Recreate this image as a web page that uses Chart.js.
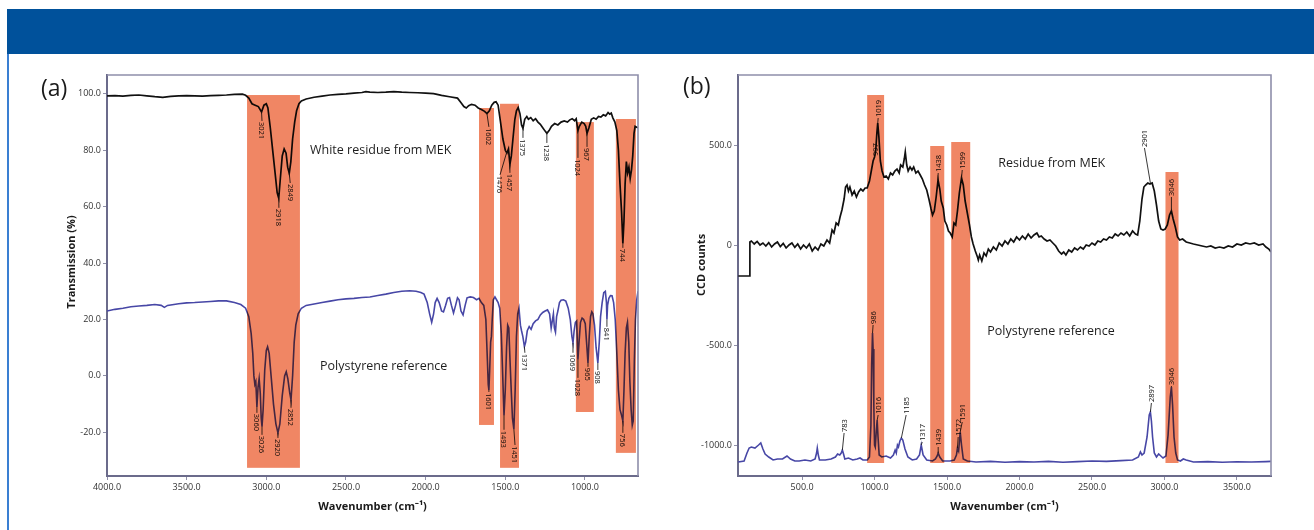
<!DOCTYPE html>
<html><head><meta charset="utf-8">
<script src="https://cdn.jsdelivr.net/npm/chart.js@4.4.1/dist/chart.umd.min.js"></script>
<style>
html,body{margin:0;padding:0;background:#fff;}
body{width:1314px;height:530px;position:relative;overflow:hidden;font-family:"Open Sans",sans-serif;}
#hdr{position:absolute;left:7px;top:9px;width:1307px;height:45px;background:#00519b;}
#side{position:absolute;left:7px;top:54px;width:2px;height:476px;background:#3a7fd2;}
.panel{position:absolute;top:54px;height:476px;}
#pa{left:0;width:660px;}
#pb{left:660px;width:654px;}
.tag{position:absolute;font-size:23px;line-height:24px;color:#1a1a1a;}
</style></head><body>
<div id="hdr"></div><div id="side"></div>
<div class="panel" id="pa"><canvas id="ca" width="660" height="476"></canvas></div>
<div class="panel" id="pb"><canvas id="cb" width="654" height="476"></canvas></div>
<div class="tag" style="left:41px;top:75px">(a)</div>
<div class="tag" style="left:683px;top:73px">(b)</div>
<script>
// ---------- Panel (a): FTIR transmission ----------
const aMekWn = [4000,3950,3900,3850,3800,3750,3700,3650,3600,3550,3500,3450,3400,3350,3300,3250,3200,3150,3130,3110,3090,3070,3050,3030,3015,3000,2990,2975,2960,2945,2932,2922,2912,2900,2888,2876,2866,2856,2846,2835,2822,2810,2795,2780,2750,2700,2650,2600,2550,2500,2450,2400,2375,2350,2300,2250,2200,2150,2100,2050,2000,1950,1900,1850,1800,1780,1760,1745,1730,1712,1690,1670,1650,1630,1615,1600,1585,1570,1558,1545,1530,1515,1500,1490,1480,1471,1462,1452,1440,1430,1419,1408,1398,1389,1378,1365,1355,1340,1325,1310,1295,1280,1265,1250,1239,1225,1210,1190,1170,1150,1130,1110,1095,1080,1065,1055,1044,1035,1020,1005,995,987,975,960,945,930,915,900,885,870,855,845,835,825,812,800,790,780,770,762,755,748,740,732,724,716,708,700,692,685,675,667];
const aMekT  = [99.3,99.4,99.2,99.5,99.6,99.3,99.0,98.8,99.1,99.3,99.4,99.3,99.2,99.4,99.5,99.6,99.8,99.9,99.5,98.5,96.5,96.0,95.5,93.6,96.0,96.5,95.0,88.0,80.0,72.0,65.0,63.0,70.0,78.0,80.5,79.0,74.0,71.8,76.0,84.0,90.0,94.0,96.5,97.5,98.2,98.8,99.2,99.6,99.8,100.0,100.3,100.5,100.8,100.6,100.5,100.6,100.8,100.6,100.5,100.4,100.3,100.1,99.5,99.0,98.5,97.0,95.5,95.0,95.8,96.3,96.0,95.0,94.5,93.8,93.0,94.0,96.0,97.0,97.2,96.0,90.0,84.0,80.0,79.0,80.5,75.0,78.0,84.0,91.0,94.0,95.2,93.0,89.0,87.8,91.0,92.0,91.0,91.6,90.5,91.2,90.0,89.2,88.0,86.8,86.0,87.0,88.5,89.5,89.0,90.0,90.4,90.0,90.8,91.2,90.5,91.2,87.0,88.5,90.0,89.5,88.5,86.0,88.0,91.0,91.5,91.0,92.0,91.8,92.6,92.2,93.4,92.8,93.2,91.5,90.0,87.0,80.0,68.0,58.0,47.0,55.0,68.0,76.0,72.0,74.0,70.0,73.0,78.0,86.0,88.5,88.2,88.0];
const aPsWn = [4000,3950,3900,3850,3800,3750,3700,3660,3640,3620,3550,3500,3450,3400,3350,3300,3250,3200,3160,3130,3110,3095,3085,3078,3072,3066,3059,3052,3045,3038,3032,3027,3020,3010,3000,2992,2982,2970,2955,2940,2927,2915,2900,2885,2875,2865,2853,2845,2835,2825,2815,2800,2780,2750,2700,2650,2600,2550,2500,2450,2400,2350,2300,2250,2200,2150,2100,2060,2030,2010,1990,1975,1962,1950,1940,1928,1915,1900,1888,1875,1862,1850,1838,1825,1812,1800,1790,1778,1765,1752,1740,1720,1700,1680,1665,1650,1635,1622,1612,1607,1603,1598,1592,1587,1582,1575,1565,1555,1545,1535,1525,1515,1508,1500,1492,1485,1478,1470,1462,1455,1446,1438,1430,1422,1414,1405,1398,1390,1380,1372,1362,1350,1338,1325,1310,1295,1280,1265,1250,1235,1222,1212,1205,1198,1192,1185,1178,1170,1160,1150,1135,1120,1105,1092,1082,1075,1068,1060,1052,1044,1037,1028,1018,1008,998,990,981,973,965,957,950,940,930,919,910,902,892,882,872,865,862,858,850,840,830,820,810,800,790,780,770,762,755,748,740,733,725,718,710,703,697,690,683,675,667];
const aPsT  = [23.0,23.6,24.0,24.5,24.8,25.0,25.3,25.0,24.3,25.0,25.6,25.9,26.0,26.2,26.4,26.6,26.6,26.0,25.3,24.0,21.0,15.0,8.0,0.0,-3.0,-2.0,-11.0,-4.0,-1.0,-6.0,-15.0,-18.0,-12.0,2.0,9.0,10.3,8.0,0.0,-10.0,-17.0,-20.2,-17.0,-7.0,0.0,1.5,-1.0,-6.0,-8.5,0.0,12.0,18.0,22.0,24.0,25.0,25.5,26.0,26.5,27.0,27.3,27.5,27.8,28.0,28.5,29.0,29.6,30.0,30.2,30.0,29.6,29.0,26.0,22.0,19.0,22.0,26.0,27.5,26.0,23.0,22.7,25.0,27.5,27.8,25.0,22.3,25.0,27.7,27.0,23.0,21.6,25.0,27.7,28.0,27.8,27.0,27.5,26.0,25.0,20.0,5.0,-3.0,-5.0,2.0,12.0,14.0,20.0,27.0,28.0,27.0,26.0,24.0,15.0,-2.0,-14.0,-5.0,10.0,18.0,17.0,5.0,-6.0,-15.0,-19.0,-5.0,14.0,22.0,24.0,18.0,16.0,14.0,10.4,12.0,16.0,17.5,16.5,18.5,19.5,20.0,21.6,22.5,23.0,23.4,22.0,17.0,19.5,22.0,17.0,15.5,21.0,23.0,26.0,26.8,27.0,26.5,24.0,20.0,14.0,11.7,16.0,19.0,19.5,5.7,12.0,19.0,20.5,20.0,18.5,12.0,4.6,14.0,21.0,22.7,22.0,18.0,10.0,4.6,12.0,21.0,26.0,29.5,30.0,26.0,20.0,25.0,27.5,28.5,28.4,26.0,20.0,8.0,-5.0,-12.0,-14.0,-16.0,-5.0,8.0,17.0,19.0,12.0,-2.0,-12.0,-17.5,-16.0,5.0,20.0,27.0,30.0];
const aXTicks = [4000,3500,3000,2500,2000,1500,1000];
const aXTickLabels = ["4000.0","3500.0","3000.0","2500.0","2000.0","1500.0","1000.0"];
const aYTicks = [-20,0,20,40,60,80,100];
const aYTickLabels = ["-20.0","0.0","20.0","40.0","60.0","80.0","100.0"];
// highlighted bands: [from, to, top, bottom]
const aBands = [[3121,2789,99.6,-32.6],[1665,1571,95,-17.4],[1533,1414,96.5,-32.6],[1057,944,90,-12.8],[806,680,91.1,-27.3]];
const aPeaks = [
 {t:'3021',tip:[3030,93.6],at:[3027,90.4]},{t:'2918',tip:[2922,63.0],at:[2921,59.6]},{t:'2849',tip:[2856,71.8],at:[2850,68.4]},
 {t:'1602',tip:[1615,93.0],at:[1603,88.3]},{t:'1476',tip:[1490,79.5],at:[1533,71.3]},{t:'1457',tip:[1471,75.0],at:[1471,72.0]},
 {t:'1375',tip:[1389,87.8],at:[1389,84.4]},{t:'1238',tip:[1239,86.0],at:[1239,82.6]},{t:'1024',tip:[1044,87.0],at:[1044,77.3]},
 {t:'967',tip:[987,86.0],at:[987,81.2]},{t:'744',tip:[762,47.0],at:[762,45.4]},
 {t:'3060',tip:[3059,-11],at:[3059,-13.1]},{t:'3026',tip:[3027,-18],at:[3027,-20.9]},{t:'2920',tip:[2927,-20.2],at:[2927,-22]},
 {t:'2852',tip:[2845,-8.5],at:[2845,-11.3]},{t:'1601',tip:[1603,-5],at:[1603,-5.7]},{t:'1493',tip:[1508,-14],at:[1508,-19.1]},
 {t:'1451',tip:[1446,-19],at:[1439,-24.5]},{t:'1371',tip:[1380,10.4],at:[1377,8.2]},{t:'1069',tip:[1075,11.7],at:[1075,8.2]},
 {t:'1028',tip:[1044,5.7],at:[1044,-0.7]},{t:'965',tip:[981,4.6],at:[981,3.2]},{t:'908',tip:[919,4.6],at:[919,2.1]},
 {t:'841',tip:[862,20],at:[862,17.4]},{t:'756',tip:[762,-16],at:[762,-20.2]}];
const aNames = [{t:'White residue from MEK',x:2726,y:79.8},{t:'Polystyrene reference',x:2663,y:3.2}];

// ---------- Panel (b): Raman ----------
const bMekWn = [60,100,138,140,150,170,190,210,230,250,270,290,310,330,350,370,390,410,430,450,470,490,510,530,550,570,590,610,630,650,672,690,707,720,735,750,762,775,790,800,810,820,830,845,860,875,890,905,920,935,949,965,980,990,1000,1008,1016,1022,1030,1040,1052,1065,1080,1095,1110,1125,1140,1155,1170,1180,1195,1205,1212,1222,1232,1245,1258,1270,1285,1300,1315,1330,1345,1360,1375,1390,1400,1412,1425,1438,1450,1460,1474,1485,1498,1510,1522,1536,1548,1560,1572,1585,1600,1612,1625,1640,1655,1668,1680,1695,1710,1716,1725,1740,1755,1770,1785,1800,1820,1840,1860,1880,1900,1920,1940,1960,1980,2000,2020,2040,2060,2080,2100,2120,2135,2150,2170,2190,2210,2230,2250,2270,2290,2305,2320,2340,2360,2380,2400,2420,2440,2460,2480,2500,2520,2540,2560,2580,2600,2620,2640,2660,2680,2700,2720,2740,2760,2780,2800,2815,2830,2845,2858,2870,2885,2900,2915,2930,2945,2960,2975,2990,3005,3020,3035,3048,3060,3075,3090,3105,3125,3150,3175,3200,3230,3260,3290,3320,3350,3380,3410,3440,3470,3500,3530,3560,3590,3620,3650,3680,3700,3720,3735];
const bMekC = [-155,-155,-155,15,20,5,18,0,10,-5,12,-10,5,15,-8,8,-15,0,10,-12,5,-20,0,-15,5,-30,-10,-25,5,-5,25,10,75,60,110,100,140,175,230,290,300,270,290,250,270,240,265,280,270,285,285,320,380,420,440,470,560,610,540,420,370,340,345,330,360,350,370,380,360,400,390,430,465,400,370,390,375,390,360,370,350,330,300,275,230,180,150,170,240,325,280,220,185,120,100,70,60,40,110,100,170,260,335,300,220,160,100,40,5,-30,-60,-75,-50,-80,-40,-55,-20,-35,-10,-25,10,-5,20,5,30,15,40,25,45,30,55,35,50,60,40,45,30,20,25,10,-5,-30,-45,-35,-50,-25,-35,-15,-25,-10,-20,0,-5,10,0,20,15,30,25,40,35,55,45,60,50,65,45,70,55,50,120,230,290,300,310,305,310,270,200,120,80,75,80,100,150,170,130,90,40,25,30,15,10,5,0,-5,-10,-5,-15,-10,-15,-5,-10,5,0,10,5,10,0,5,-10,-20,-35];
const bPsWn = [60,100,120,135,150,175,200,215,230,245,270,300,330,365,396,420,450,480,520,560,590,600,605,612,620,660,700,730,745,760,770,778,786,795,820,850,880,900,920,950,965,975,980,986,990,995,1000,1005,1012,1018,1024,1032,1050,1080,1110,1130,1142,1150,1158,1165,1175,1185,1195,1210,1230,1260,1290,1310,1322,1335,1360,1400,1420,1432,1439,1450,1470,1520,1550,1565,1572,1580,1591,1600,1612,1640,1700,1800,1900,2000,2100,2200,2300,2400,2500,2600,2700,2780,2820,2834,2845,2860,2880,2895,2903,2910,2918,2930,2945,2960,2975,2990,3010,3025,3040,3048,3056,3066,3078,3090,3110,3130,3150,3200,3300,3400,3500,3600,3700,3735];
const bPsC = [-1085,-1080,-1040,-1015,-1010,-1015,-1000,-990,-1020,-1045,-1060,-1075,-1070,-1070,-1055,-1070,-1080,-1080,-1075,-1080,-1070,-1040,-1015,-1050,-1075,-1075,-1070,-1060,-1045,-1050,-1040,-1025,-1045,-1070,-1065,-1075,-1070,-1065,-1075,-1075,-1060,-900,-600,-440,-520,-800,-1000,-1010,-930,-875,-960,-1050,-1060,-1055,-1065,-1050,-1025,-1040,-1000,-1010,-980,-965,-975,-1020,-1060,-1075,-1070,-1050,-1000,-1050,-1075,-1080,-1070,-1055,-1040,-1060,-1080,-1080,-1075,-1050,-1015,-1030,-935,-1000,-1070,-1080,-1085,-1082,-1086,-1083,-1085,-1082,-1086,-1083,-1080,-1082,-1078,-1075,-1060,-1035,-1050,-1040,-960,-850,-835,-880,-960,-1040,-1060,-1045,-1055,-1065,-1055,-950,-760,-710,-800,-960,-1040,-1075,-1080,-1070,-1075,-1085,-1083,-1086,-1084,-1085,-1083,-1082];
const bXTicks = [500,1000,1500,2000,2500,3000,3500];
const bXTickLabels = ["500.0","1000.0","1500.0","2000.0","2500.0","3000.0","3500.0"];
const bYTicks = [-1000,-500,0,500];
const bYTickLabels = ["-1000.0","-500.0","0","500.0"];
const bBands = [[949,1066,750,-1090],[1384,1481,495,-1090],[1529,1660,515,-1090],[3007,3097,365,-1090]];
const bPeaks = [
 {t:'1019',tip:[1022,610],at:[1025,635]},{t:'997',tip:[1004,440],at:[1004,440]},{t:'1438',tip:[1438,325],at:[1439,360]},
 {t:'1599',tip:[1600,335],at:[1605,375]},{t:'2901',tip:[2903,310],at:[2862,485]},{t:'3046',tip:[3048,170],at:[3048,240]},
 {t:'986',tip:[986,-440],at:[990,-400]},{t:'1016',tip:[1018,-875],at:[1025,-850]},{t:'783',tip:[778,-1025],at:[790,-940]},
 {t:'1185',tip:[1185,-965],at:[1218,-850]},{t:'1317',tip:[1322,-1000],at:[1329,-985]},{t:'1439',tip:[1439,-1040],at:[1439,-1010]},
 {t:'1572',tip:[1572,-1015],at:[1577,-960]},{t:'1591',tip:[1591,-935],at:[1605,-885]},{t:'2897',tip:[2903,-835],at:[2910,-790]},
 {t:'3046',tip:[3048,-710],at:[3048,-705]}];
const bNames = [{t:'Residue from MEK',x:1854,y:410},{t:'Polystyrene reference',x:1778,y:-430}];

const toPts = (xs, ys) => xs.map((v, i) => ({x: v, y: ys[i]}));

const overlay = {
  id: 'overlay',
  afterDatasetsDraw(chart, args, o) {
    const {ctx, chartArea: ca} = chart;
    const x = chart.scales.x, y = chart.scales.y;
    ctx.save();
    ctx.beginPath(); ctx.rect(ca.left, ca.top, ca.right - ca.left, ca.bottom - ca.top); ctx.clip();
    ctx.font = o.peakFont;
    o.peaks.forEach(p => {
      const tx = x.getPixelForValue(p.tip[0]), ty = y.getPixelForValue(p.tip[1]);
      const lx = x.getPixelForValue(p.at[0]), ly = y.getPixelForValue(p.at[1]);
      ctx.strokeStyle = '#222'; ctx.lineWidth = 0.9;
      ctx.beginPath(); ctx.moveTo(tx, ty); ctx.lineTo(lx, ly); ctx.stroke();
      ctx.save(); ctx.translate(lx, ly); ctx.rotate(o.dir * Math.PI / 2);
      ctx.fillStyle = '#111'; ctx.textAlign = 'left'; ctx.textBaseline = 'middle';
      ctx.fillText(p.t, 1, 0.5); ctx.restore();
    });
    ctx.globalCompositeOperation = 'multiply';
    ctx.fillStyle = 'rgb(240,134,100)';
    o.bands.forEach(b => {
      const x0 = x.getPixelForValue(b[0]), x1 = x.getPixelForValue(b[1]);
      const y0 = y.getPixelForValue(b[2]), y1 = y.getPixelForValue(b[3]);
      ctx.fillRect(Math.min(x0, x1), Math.min(y0, y1), Math.abs(x1 - x0), Math.abs(y1 - y0));
    });
    ctx.globalCompositeOperation = 'source-over';
    ctx.fillStyle = '#1e1e1e'; ctx.font = '12.5px "Open Sans"'; ctx.textAlign = 'left'; ctx.textBaseline = 'middle';
    o.names.forEach(n => ctx.fillText(n.t, x.getPixelForValue(n.x), y.getPixelForValue(n.y)));
    ctx.restore();
    // top / right frame
    ctx.save();
    ctx.strokeStyle = '#8e8eaa'; ctx.lineWidth = 1.6;
    ctx.beginPath(); ctx.moveTo(ca.left, ca.top); ctx.lineTo(ca.right, ca.top); ctx.lineTo(ca.right, ca.bottom); ctx.stroke();
    // axis titles
    ctx.fillStyle = '#1a1a1a'; ctx.font = 'bold 11px "Open Sans"'; ctx.textAlign = 'center'; ctx.textBaseline = 'middle';
    ctx.fillText(o.xTitle, (ca.left + ca.right) / 2, o.xTitleY);
    ctx.translate(o.yTitleX, o.yTitleY); ctx.rotate(-Math.PI / 2);
    ctx.fillText(o.yTitle, 0, 0);
    ctx.restore();
  }
};

function axis(min, max, ticks, labels, reverse, fit) {
  return {
    type: 'linear', min, max, reverse,
    afterBuildTicks: s => { s.ticks = ticks.map(v => ({value: v})); },
    afterFit: fit,
    grid: {display: true, drawOnChartArea: false, drawTicks: true, tickLength: 4, color: '#9090a8', lineWidth: 1},
    border: {display: true, color: '#6b6b8b', width: 2},
    ticks: {autoSkip: false, maxRotation: 0, padding: 2, color: '#333', font: {family: 'Open Sans', size: 9},
      callback: v => labels[ticks.indexOf(v)]}
  };
}

function makeChart(id, ds, xs, ys, pad, ov) {
  return new Chart(document.getElementById(id), {
    type: 'line',
    data: {datasets: ds},
    options: {
      responsive: false, animation: false, devicePixelRatio: 1,
      layout: {padding: pad},
      elements: {point: {radius: 0}, line: {tension: 0}},
      plugins: {legend: {display: false}, tooltip: {enabled: false}, overlay: ov},
      scales: {x: xs, y: ys}
    },
    plugins: [overlay]
  });
}

makeChart('ca', [
  {data: toPts(aPsWn, aPsT), borderColor: '#4747a6', borderWidth: 1.6},
  {data: toPts(aMekWn, aMekT), borderColor: '#111', borderWidth: 1.7}
],
  axis(667, 4000, aXTicks, aXTickLabels, true, s => { s.height = 54; }),
  axis(-35.5, 106.7, aYTicks, aYTickLabels, false, s => { s.width = 107; }),
  {left: 0, top: 21, right: 22, bottom: 0},
  {peaks: aPeaks, bands: aBands, names: aNames, dir: 1, peakFont: '7.5px "Open Sans"',
   xTitle: 'Wavenumber (cm\u207B\u00B9)', xTitleY: 453, yTitle: 'Transmission (%)', yTitleX: 72, yTitleY: 208});

makeChart('cb', [
  {data: toPts(bPsWn, bPsC), borderColor: '#4747a6', borderWidth: 1.6},
  {data: toPts(bMekWn, bMekC), borderColor: '#111', borderWidth: 1.7}
],
  axis(58, 3735, bXTicks, bXTickLabels, false, s => { s.height = 54; }),
  axis(-1155, 850, bYTicks, bYTickLabels, false, s => { s.width = 78; }),
  {left: 0, top: 21, right: 43, bottom: 0},
  {peaks: bPeaks, bands: bBands, names: bNames, dir: -1, peakFont: '7.5px "Open Sans"',
   xTitle: 'Wavenumber (cm\u207B\u00B9)', xTitleY: 453, yTitle: 'CCD counts', yTitleX: 42, yTitleY: 211});
</script>
</body></html>
